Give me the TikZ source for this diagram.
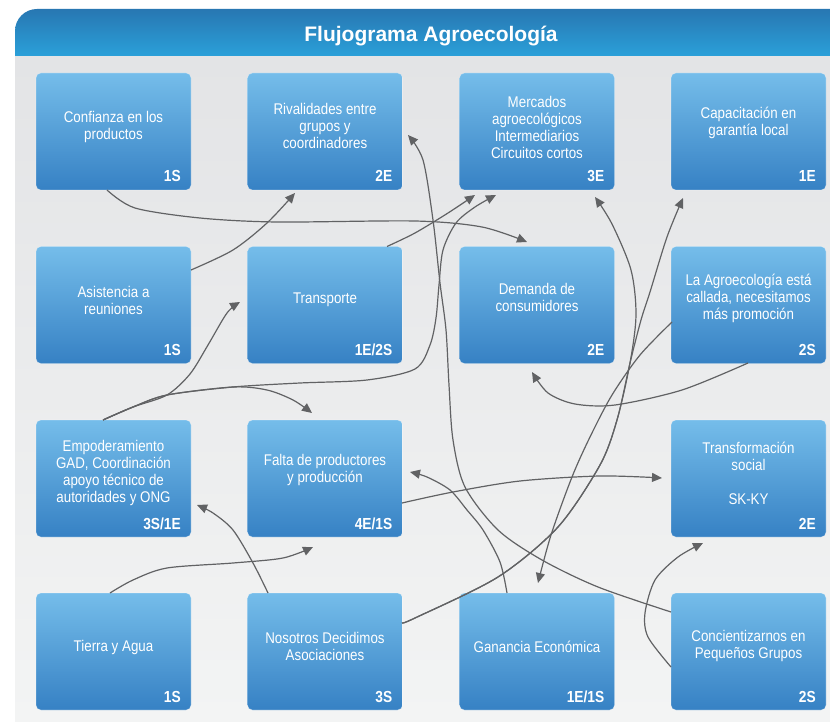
\documentclass[tikz,border=0pt]{standalone}
\usepackage{fontspec}
\setmainfont{Liberation Sans}
\newfontfamily\boxfont[FakeStretch=0.86]{Liberation Sans}
\usetikzlibrary{arrows.meta,calc}
\definecolor{hdtop}{HTML}{2877B2}
\definecolor{hdbot}{HTML}{2AA0D9}
\definecolor{pgtop}{HTML}{E3E4E6}
\definecolor{pgbot}{HTML}{F3F4F4}
\definecolor{bxtop}{HTML}{75BDEA}
\definecolor{bxbot}{HTML}{3681C4}
\definecolor{conncol}{HTML}{616264}
\tikzset{
 box/.style={rectangle, rounded corners=5pt, minimum width=155pt, minimum height=117pt, inner sep=0pt, outer sep=0pt, top color=bxtop, bottom color=bxbot, draw=white, draw opacity=0.3, line width=0.6pt},
 lbl/.style={text=white, align=center, inner sep=0pt, font=\boxfont\fontsize{15.5}{17}\selectfont},
 tag/.style={text=white, anchor=base east, inner sep=0pt, font=\boxfont\bfseries\fontsize{16}{18}\selectfont},
 conn/.style={draw=conncol, line width=1.2pt, -{Triangle[length=10pt,width=9pt]}},
}
\newcommand\mkbox[6]{%
  \node[box] (#1) at (#2,#3) {};
  \node[lbl] (#1-t) at ([yshift=#6pt]#1.center) {#4};
  \node[tag] (#1-g) at ([xshift=-10pt,yshift=8pt]#1.south east) {#5};
}
\begin{document}
\begin{tikzpicture}[x=1pt,y=-1pt]
\useasboundingbox (0,0) rectangle (830,722);
\fill[white] (0,0) rectangle (830,722);
\begin{scope}
\clip[rounded corners=22pt] (15,9) rectangle (880,780);
\shade[top color=pgtop, bottom color=pgbot] (15,56) rectangle (880,722);
\fill[pgbot] (15,722) rectangle (880,780);
\shade[top color=hdtop, bottom color=hdbot] (15,9) rectangle (880,56);
\end{scope}
\node[font=\bfseries\fontsize{21}{25}\selectfont, text=white, anchor=base, inner sep=0pt] (title) at (431,42) {Flujograma Agroecología};

\mkbox{conf}{113.5}{131.5}{Confianza en los\\productos}{1S}{5}
\mkbox{riv}{325}{131.5}{Rivalidades entre\\grupos y\\coordinadores}{2E}{5.5}
\mkbox{merc}{537}{131.5}{Mercados\\agroecológicos\\Intermediarios\\Circuitos cortos}{3E}{4.5}
\mkbox{cap}{748.5}{131.5}{Capacitación en\\garantía local}{1E}{8.5}
\mkbox{asis}{113.5}{305}{Asistencia a\\reuniones}{1S}{5}
\mkbox{trans}{325}{305}{Transporte}{1E/2S}{5}
\mkbox{dem}{537}{305}{Demanda de\\consumidores}{2E}{7.5}
\mkbox{agro}{748.5}{305}{La Agroecología está\\callada, necesitamos\\más promoción}{2S}{7}
\mkbox{emp}{113.5}{478.5}{Empoderamiento\\GAD, Coordinación\\apoyo técnico de\\autoridades y ONG}{3S/1E}{5.5}
\mkbox{falta}{325}{478.5}{Falta de productores\\y producción}{4E/1S}{8.5}
\mkbox{transf}{748.5}{478.5}{Transformación\\social\\[17pt]SK-KY}{2E}{5.5}
\mkbox{tierra}{113.5}{651.5}{Tierra y Agua}{1S}{4}
\mkbox{nos}{325}{651.5}{Nosotros Decidimos\\Asociaciones}{3S}{5}
\mkbox{gan}{537}{651.5}{Ganancia Económica}{1E/1S}{5}
\mkbox{conc}{748.5}{651.5}{Concientizarnos en\\Pequeños Grupos}{2S}{5.5}

% end points
\coordinate (A0) at ($(conf.north west)+(71,117)$);
\coordinate (A1) at ($(dem.north west)+(67.5,-4.5)$);
\coordinate (B0) at ($(asis.north west)+(155,23.5)$);
\coordinate (B1) at ($(riv.north west)+(47.5,120)$);
\coordinate (C0) at ($(trans.north west)+(139.5,0)$);
\coordinate (C1) at ($(merc.north west)+(15.5,122)$);
\coordinate (D0) at ($(emp.north west)+(67,0)$);
\coordinate (D1e) at ($(trans.north west)+(-7.5,55.5)$);
\coordinate (D2e) at ($(falta.north west)+(64.5,-7)$);
\coordinate (D3e) at ($(merc.north west)+(36.5,122)$);
\coordinate (E0) at ($(conc.north west)+(0,19)$);
\coordinate (E1) at ($(riv.north west)+(160.5,62)$);
\coordinate (F0) at ($(gan.north west)+(47.5,0)$);
\coordinate (F1) at ($(falta.north west)+(162.5,52)$);
\coordinate (G0) at ($(falta.north west)+(154.5,83)$);
\coordinate (G1) at ($(transf.north west)+(-9,58)$);
\coordinate (H0) at ($(nos.north west)+(154.5,30)$);
\coordinate (H1e) at ($(merc.north west)+(135.5,124)$);
\coordinate (H2e) at ($(cap.north west)+(12,125)$);
\coordinate (I0) at ($(agro.north west)+(1,75.5)$);
\coordinate (I1) at ($(gan.north west)+(78.5,-10)$);
\coordinate (J0) at ($(agro.north west)+(77,116.5)$);
\coordinate (J1) at ($(dem.north west)+(72.5,125.5)$);
\coordinate (K0) at ($(tierra.north west)+(74,0)$);
\coordinate (K1) at ($(falta.north west)+(65.5,127)$);
\coordinate (L0) at ($(nos.north west)+(20.5,0)$);
\coordinate (L1) at ($(emp.north west)+(161,85)$);
\coordinate (M0) at ($(conc.north west)+(0,74)$);
\coordinate (M1) at ($(transf.north west)+(32,123)$);

\draw[conn] plot[smooth] coordinates {(A0) (135,208) (200,218) (277,222) (415,221) (482,227) (A1)};
\draw[conn] plot[smooth] coordinates {(B0) (233,250) (267,223) (B1)};
\draw[conn] plot[smooth] coordinates {(C0) (415,233) (448,213) (C1)};
\draw[conn] plot[smooth] coordinates {(D0) (133,407) (167,395) (190,374) (208,345) (227,313) (D1e)};
\draw[conn] plot[smooth] coordinates {(D0) (133,407) (167,395) (233,387) (267,390) (293,400) (D2e)};
\draw[conn] plot[smooth] coordinates {(D0) (133,407) (167,395) (233,387) (300,383) (367,380) (415,369) (430,345) (436,318) (439,285) (443,250) (456,223) (475,207) (D3e)};
\draw[conn] plot[smooth] coordinates {(E0) (598,587) (542,560) (498,530) (465,487) (453,440) (449,385) (446,330) (440,283) (433,220) (423,160) (E1)};
\draw[conn] plot[smooth] coordinates {(F0) (500,562) (483,530) (467,510) (450,490) (427,477) (F1)};
\draw[conn] plot[smooth] coordinates {(G0) (453,492) (520,481) (600,476) (G1)};
\draw[conn] plot[smooth] coordinates {(H0) (415,618) (498,577) (558,527) (600,465) (617,420) (630,363) (636,315) (631,270) (612,224) (H1e)};
\draw[conn] plot[smooth] coordinates {(H0) (415,618) (498,577) (558,527) (600,465) (617,420) (630,363) (641,320) (650,292) (667,237) (H2e)};
\draw[conn] plot[smooth] coordinates {(I0) (640,355) (612,395) (590,437) (572,477) (551,535) (I1)};
\draw[conn] plot[smooth] coordinates {(J0) (682,390) (615,405) (575,404) (548,393) (J1)};
\draw[conn] plot[smooth] coordinates {(K0) (133,580) (167,568) (233,563) (283,558) (K1)};
\draw[conn] plot[smooth] coordinates {(L0) (253,563) (233,530) (213,513) (L1)};
\draw[conn] plot[smooth] coordinates {(M0) (648,637) (645,613) (655,580) (678,557) (M1)};
\end{tikzpicture}
\end{document}
